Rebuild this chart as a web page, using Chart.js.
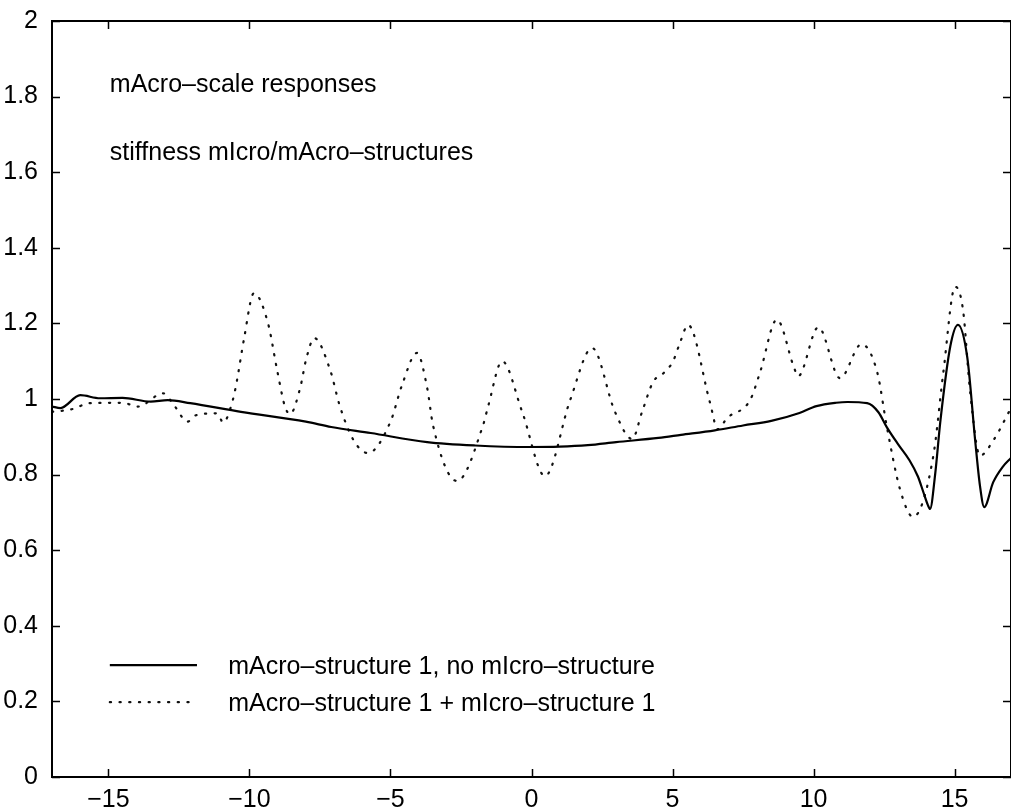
<!DOCTYPE html>
<html lang="en">
<head>
<meta charset="UTF-8">
<title>mAcro-scale responses</title>
<script src="https://cdn.jsdelivr.net/npm/chart.js@4.4.1/dist/chart.umd.min.js"></script>
<style>
  html, body { margin: 0; padding: 0; background: #fff; }
  #wrap { width: 1011px; height: 810px; }
</style>
</head>
<body>
<div id="wrap"><canvas id="chart" width="1011" height="810"></canvas></div>
<script>
// axis ticks
const xTicks = [-15, -10, -5, 0, 5, 10, 15];
const yTicks = [0, 0.2, 0.4, 0.6, 0.8, 1, 1.2, 1.4, 1.6, 1.8, 2];

// mAcro-structure 1, no mIcro-structure (solid)
const solidX = [-17, -16.7, -16.0, -15.3, -14.5, -13.5, -12.9, -12.1, -10.3, -8.0, -7.1, -5.7, -3.7, -2, -0.05, 1, 2, 3, 4.5, 5.3, 6.5, 7.5, 8.5, 9.5, 10.1, 10.8, 11.2, 11.9, 12.3, 12.6, 13.0, 13.4, 13.7, 13.9, 14.05, 14.13, 14.31, 14.5, 14.85, 15.12, 15.45, 15.73, 15.9, 16.05, 16.37, 16.7, 17];
const solidY = [0.98, 0.976, 1.01, 1.002, 1.003, 0.993, 0.997, 0.989, 0.966, 0.94, 0.926, 0.91, 0.886, 0.877, 0.873, 0.874, 0.878, 0.886, 0.897, 0.905, 0.917, 0.93, 0.942, 0.963, 0.981, 0.99, 0.992, 0.989, 0.965, 0.925, 0.88, 0.838, 0.795, 0.752, 0.72, 0.709, 0.80, 0.944, 1.14, 1.196, 1.11, 0.89, 0.77, 0.714, 0.78, 0.82, 0.844];

// mAcro-structure 1 + mIcro-structure 1 (dotted)
const dottedX = [-17, -16.3, -15.65, -14.5, -13.95, -13.06, -12.64, -12.2, -11.9, -11.15, -10.93, -10.58, -10.44, -10.2, -9.84, -9.34, -9.02, -8.74, -8.56, -8.2, -7.99, -7.7, -7.14, -6.79, -6.3, -5.8, -5.0, -4.59, -4.06, -3.7, -3.49, -2.64, -1.72, -1.54, -1.04, -0.33, 0.48, 1.37, 2.15, 2.96, 3.57, 3.92, 4.31, 4.7, 5.02, 5.27, 5.55, 6.33, 6.6, 6.94, 7.75, 8.1, 8.7, 9.3, 9.45, 10.17, 10.94, 11.7, 12.26, 12.6, 13.07, 13.53, 14.24, 14.6, 15.02, 15.3, 15.55, 15.9, 16.37, 17];
const dottedY = [0.966, 0.973, 0.989, 0.99, 0.98, 1.015, 0.98, 0.94, 0.957, 0.962, 0.938, 1.0, 1.05, 1.156, 1.28, 1.20, 1.077, 0.98, 0.96, 1.03, 1.105, 1.161, 1.077, 0.98, 0.89, 0.857, 0.94, 1.037, 1.122, 1.03, 0.93, 0.783, 0.93, 0.98, 1.10, 0.966, 0.796, 0.997, 1.135, 0.966, 0.894, 0.966, 1.045, 1.07, 1.10, 1.15, 1.196, 0.99, 0.92, 0.95, 0.997, 1.07, 1.21, 1.085, 1.06, 1.19, 1.055, 1.145, 1.07, 0.926, 0.76, 0.688, 0.847, 1.07, 1.297, 1.235, 1.02, 0.85, 0.89, 0.976];

const seriesNames = ['mAcro\u2013structure 1, no mIcro\u2013structure', 'mAcro\u2013structure 1 + mIcro\u2013structure 1'];
const notes = ['mAcro\u2013scale responses', 'stiffness mIcro/mAcro\u2013structures'];

const FONT = '"Liberation Sans", Arial, Helvetica, sans-serif';

function pts(xs, ys) { return xs.map((x, i) => ({ x: x, y: ys[i] })); }

// frame, inward ticks, notes and legend
const matlabLook = {
  id: 'matlabLook',
  afterDraw(chart) {
    const ctx = chart.ctx;
    const a = chart.chartArea;
    const xs = chart.scales.x, ys = chart.scales.y;
    ctx.save();
    ctx.strokeStyle = '#000';
    ctx.lineWidth = 2;
    ctx.strokeRect(a.left, a.top, a.right - a.left, a.bottom - a.top);
    ctx.lineWidth = 1.5;
    const tl = 8;
    ctx.beginPath();
    xTicks.forEach(v => {
      const px = Math.round(xs.getPixelForValue(v)) + 0.5;
      ctx.moveTo(px, a.bottom); ctx.lineTo(px, a.bottom - tl);
      ctx.moveTo(px, a.top); ctx.lineTo(px, a.top + tl);
    });
    yTicks.forEach(v => {
      const py = Math.round(ys.getPixelForValue(v)) + 0.5;
      ctx.moveTo(a.left, py); ctx.lineTo(a.left + tl, py);
      ctx.moveTo(a.right, py); ctx.lineTo(a.right - tl, py);
    });
    ctx.stroke();

    // notes
    ctx.fillStyle = '#000';
    ctx.font = '25px ' + FONT;
    ctx.textBaseline = 'alphabetic';
    ctx.textAlign = 'left';
    const x0 = xs.getPixelForValue(-14.95);
    ctx.fillText(notes[0], x0, ys.getPixelForValue(1.812));
    ctx.fillText(notes[1], x0, ys.getPixelForValue(1.632));

    // legend
    const lx1 = xs.getPixelForValue(-11.86);
    const tx = xs.getPixelForValue(-10.75);
    const rows = [0.296, 0.198];
    chart.data.datasets.forEach((ds, i) => {
      const py = ys.getPixelForValue(rows[i]);
      ctx.beginPath();
      ctx.strokeStyle = ds.borderColor;
      ctx.lineWidth = ds.borderWidth;
      ctx.lineCap = ds.borderCapStyle || 'butt';
      ctx.setLineDash(ds.borderDash || []);
      ctx.moveTo(x0, py); ctx.lineTo(lx1, py);
      ctx.stroke();
      ctx.setLineDash([]);
      ctx.fillText(ds.label, tx, py + 9);
    });
    ctx.restore();
  }
};

new Chart(document.getElementById('chart'), {
  type: 'line',
  data: {
    datasets: [
      {
        label: seriesNames[0],
        data: pts(solidX, solidY),
        borderColor: '#000',
        borderWidth: 2.2,
        pointRadius: 0,
        cubicInterpolationMode: 'monotone',
        fill: false
      },
      {
        label: seriesNames[1],
        data: pts(dottedX, dottedY),
        borderColor: '#111',
        borderWidth: 2.2,
        borderDash: [1.2, 8.5],
        borderCapStyle: 'round',
        pointRadius: 0,
        cubicInterpolationMode: 'monotone',
        fill: false
      }
    ]
  },
  options: {
    responsive: false,
    animation: false,
    layout: { padding: { top: 21, right: 0, left: 0, bottom: 0 } },
    plugins: { legend: { display: false }, tooltip: { enabled: false } },
    scales: {
      x: {
        type: 'linear',
        min: -17, max: 17,
        grid: { display: false },
        border: { display: false },
        afterBuildTicks: s => { s.ticks = xTicks.map(v => ({ value: v })); },
        afterFit: s => { s.height = 33; },
        ticks: {
          padding: 0,
          color: '#000',
          font: { family: FONT, size: 25 },
          maxRotation: 0,
          callback: v => (v < 0 ? '\u2212' + Math.abs(v) : String(v))
        }
      },
      y: {
        type: 'linear',
        min: 0, max: 2,
        grid: { display: false },
        border: { display: false },
        afterBuildTicks: s => { s.ticks = yTicks.map(v => ({ value: v })); },
        afterFit: s => { s.width = 52; },
        ticks: {
          padding: 6,
          color: '#000',
          font: { family: FONT, size: 25 },
          callback: v => String(Math.round(v * 10) / 10)
        }
      }
    }
  },
  plugins: [matlabLook]
});
</script>
</body>
</html>
